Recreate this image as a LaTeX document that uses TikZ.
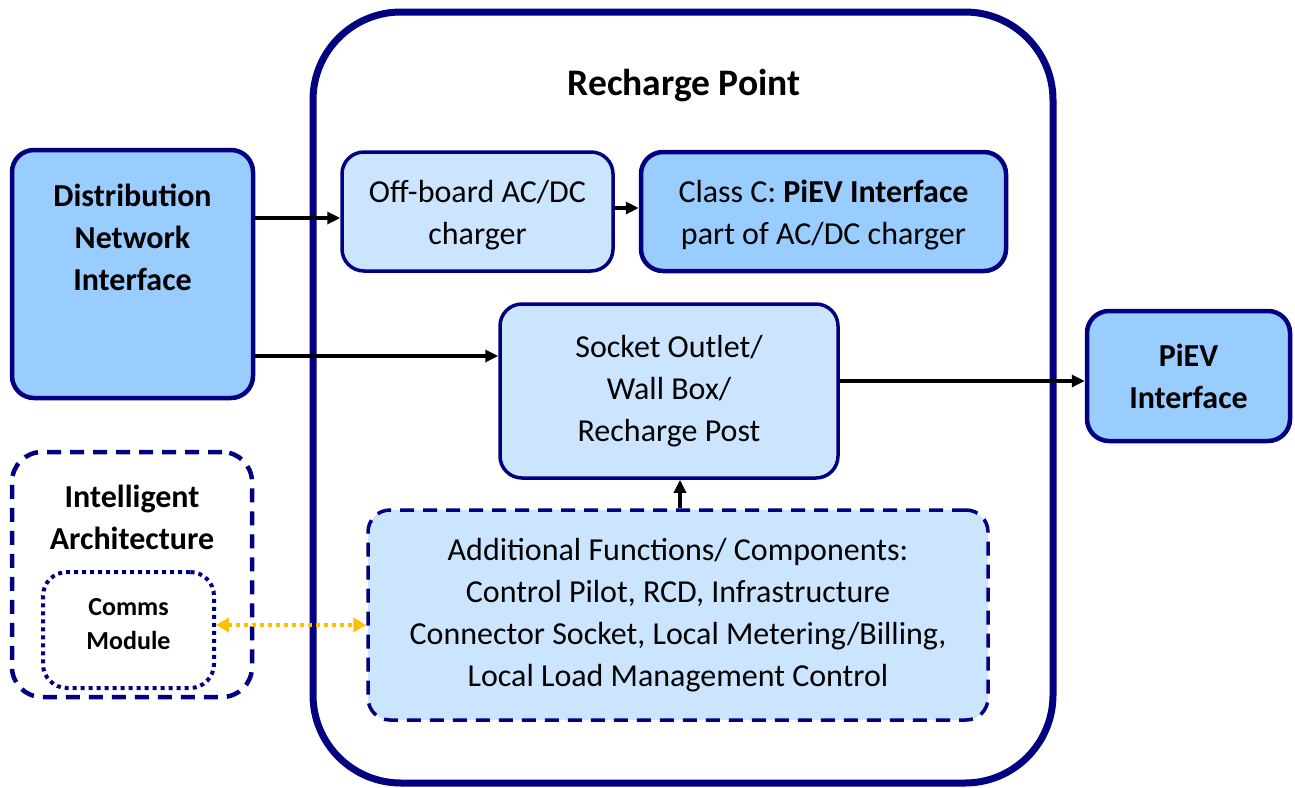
\documentclass[tikz,border=0pt]{standalone}
\usepackage{fontspec}
\setmainfont{Carlito}
\usetikzlibrary{arrows.meta}
\definecolor{navy}{HTML}{000080}
\definecolor{paleblue}{HTML}{CCE5FF}
\definecolor{midblue}{HTML}{99CCFF}
\definecolor{amber}{HTML}{FFC000}
\tikzset{
  every node/.style={font=\fontsize{32}{42}\selectfont, align=center},
  box/.style={draw=navy, line width=3.5pt, rounded corners=22pt, fill=paleblue, inner sep=0pt},
  darkbox/.style={box, fill=midblue, line width=4.5pt},
  dashbox/.style={box, dash pattern=on 14pt off 9pt},
  flow/.style={line width=3.2pt, -{Triangle[length=13pt,width=12pt]}},
  link/.style={line width=4pt, amber, dash pattern=on 4pt off 4pt,
    {Triangle[length=13pt,width=14pt]}-{Triangle[length=13pt,width=14pt]}},
  heading/.style={font=\fontsize{32}{42}\selectfont\bfseries}
}
\begin{document}
\begin{tikzpicture}[x=1pt,y=-1pt]
\useasboundingbox (0,0) rectangle (1295,787);
% outer recharge point enclosure
\node[draw=navy, line width=7pt, rounded corners=88pt, minimum width=740pt, minimum height=771pt] (rp) at (683,397.5) {};
\node[font=\fontsize{37.5}{44}\selectfont\bfseries] (rptitle) at (684,86) {Recharge Point};
% supply side
\node[darkbox, minimum width=241pt, minimum height=248pt] (dni) at (132.5,274) {};
\node[heading] (dnitext) at (132.5,237) {Distribution\\Network\\Interface};
% chargers
\node[box, minimum width=271pt, minimum height=119pt] (off) at (477.5,211.5) {\strut Off-board AC/DC\\charger};
\node[darkbox, minimum width=365pt, minimum height=119pt] (classc) at (823.5,211.5) {\strut Class C: \textbf{PiEV Interface}\\part of AC/DC charger};
\node[box, minimum width=338pt, minimum height=174pt] (sock) at (669,391) {Socket Outlet/\\Wall Box/\\Recharge Post};
\node[darkbox, minimum width=203pt, minimum height=130pt] (piev) at (1188.5,376) {\bfseries PiEV\\\bfseries Interface};
\node[dashbox, minimum width=620pt, minimum height=210pt] (addf) at (678,615) {Additional Functions/ Components:\\Control Pilot, RCD, Infrastructure\\Connector Socket, Local Metering/Billing,\\Local Load Management Control};
% intelligent architecture
\node[draw=navy, line width=4.5pt, rounded corners=30pt, dash pattern=on 14pt off 9pt, minimum width=240pt, minimum height=245pt] (ia) at (132,574.5) {};
\node[heading] (iatext) at (132,517) {Intelligent\\Architecture};
\node[draw=navy, line width=4pt, rounded corners=24pt, dash pattern=on 4pt off 4pt, minimum width=171pt, minimum height=116pt,
  label={[font=\fontsize{26}{34}\selectfont\bfseries, align=center, yshift=6pt]center:{Comms\\Module}}] (comms) at (128.5,630) {};
% connections
\draw[flow] (dni.east |- 0,218) -- (off.west |- 0,218);
\draw[flow] (dni.east |- 0,356) -- (sock.west |- 0,356);
\draw[flow] (off.east |- 0,208) -- (classc.west |- 0,208);
\draw[flow] (sock.east |- 0,381) -- (piev.west |- 0,381);
\draw[flow] (addf.north -| 680,0) -- (sock.south -| 680,0);
\draw[link] (comms.east |- 0,625) -- (addf.west |- 0,625);
\end{tikzpicture}
\end{document}
